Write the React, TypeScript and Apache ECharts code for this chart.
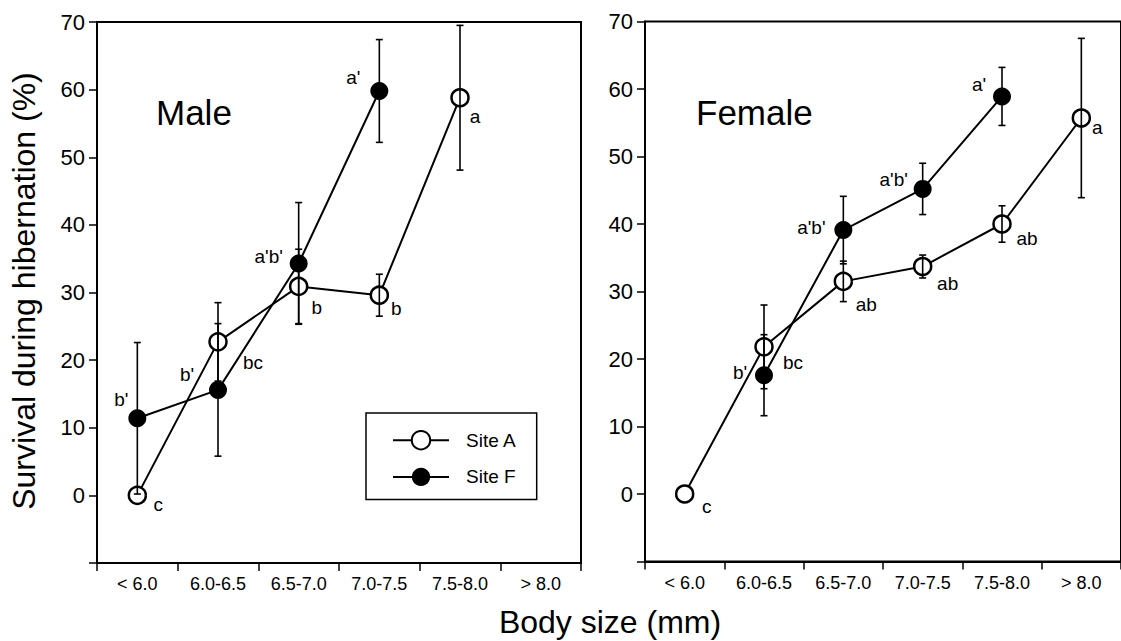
import React, { useEffect, useRef } from "react";
import * as echarts from "echarts";

const categories = ["< 6.0", "6.0-6.5", "6.5-7.0", "7.0-7.5", "7.5-8.0", "> 8.0"];
const yTickValues = [0, 10, 20, 30, 40, 50, 60, 70];

const maleSiteA = [0, 22.7, 30.9, 29.6, 58.8, null];
const maleSiteAErr = [null, 5.8, 5.5, 3.1, 10.7, null];
const maleSiteF = [11.4, 15.6, 34.3, 59.8, null, null];
const maleSiteFErr = [11.2, 9.8, 9.0, 7.6, null, null];
const maleSiteALetters = ["c", "bc", "b", "b", "a", ""];
const maleSiteFLetters = ["b'", "b'", "a'b'", "a'", "", ""];

const femaleSiteA = [0, 21.8, 31.5, 33.7, 40.0, 55.7];
const femaleSiteAErr = [null, 6.2, 3.0, 1.7, 2.7, 11.8];
const femaleSiteF = [null, 17.6, 39.1, 45.2, 58.9, null];
const femaleSiteFErr = [null, 6.0, 5.0, 3.8, 4.3, null];
const femaleSiteALetters = ["c", "bc", "ab", "ab", "ab", "a"];
const femaleSiteFLetters = ["", "b'", "a'b'", "a'b'", "a'", ""];

// label placement (style only)
const maleAOffsets = [[21, 9], [35, 21], [18, 21], [17, 13], [15, 19], [0, 0]];
const maleFOffsets = [[-16, -19], [-31, -15], [-30, -7], [-26, -13], [0, 0], [0, 0]];
const femaleAOffsets = [[22, 12], [29, 16], [23, 23], [25, 17], [25, 14], [16, 9]];
const femaleFOffsets = [[0, 0], [-24, -3], [-32, -3], [-29, -9], [-23, -12], [0, 0]];

const FONT = "Liberation Sans, Arial, Helvetica, sans-serif";

function lineData(values: (number | null)[], letters: string[], offsets: number[][]) {
  return values.map((v, i) => {
    if (v === null) return "-";
    const txt = letters[i];
    return {
      value: v,
      label: {
        show: !!txt,
        formatter: txt,
        position: "inside",
        offset: offsets[i],
        align: "center",
        verticalAlign: "middle",
      },
    };
  });
}

function errData(values: (number | null)[], errs: (number | null)[]) {
  const out: number[][] = [];
  values.forEach((v, i) => {
    const e = errs[i];
    if (v !== null && e !== null && e !== undefined) out.push([i, v - e, v + e]);
  });
  return out;
}

const renderErr = (params: any, api: any) => {
  const x = api.value(0);
  const lo = api.value(1);
  const hi = api.value(2);
  const p1 = api.coord([x, hi]);
  const p2 = api.coord([x, lo]);
  const w = 3.5;
  const st = { stroke: "#000", lineWidth: 1.6 };
  return {
    type: "group",
    children: [
      { type: "line", shape: { x1: p1[0], y1: p1[1], x2: p2[0], y2: p2[1] }, style: st },
      { type: "line", shape: { x1: p1[0] - w, y1: p1[1], x2: p1[0] + w, y2: p1[1] }, style: st },
      { type: "line", shape: { x1: p2[0] - w, y1: p2[1], x2: p2[0] + w, y2: p2[1] }, style: st },
    ],
  };
};

export default function App() {
  const ref = useRef<HTMLDivElement>(null);
  useEffect(() => {
    if (!ref.current) return;
    const chart = echarts.init(ref.current, undefined, { renderer: "svg" });

    const xAxisBase = (gridIndex: number) => ({
      type: "category",
      gridIndex,
      data: categories,
      boundaryGap: true,
      position: "bottom",
      axisLine: { show: true, onZero: false, lineStyle: { color: "#000", width: 2 } },
      axisTick: { show: true, inside: false, length: 8, alignWithLabel: false, lineStyle: { color: "#000", width: 1.5 } },
      axisLabel: { color: "#000", fontSize: 18, fontFamily: FONT, margin: 12, interval: 0 },
      splitLine: { show: false },
    });
    const yAxisBase = (gridIndex: number) => ({
      type: "value",
      gridIndex,
      min: -10,
      max: 70,
      interval: 10,
      axisLine: { show: true, lineStyle: { color: "#000", width: 2 } },
      axisTick: { show: true, inside: false, length: 8, lineStyle: { color: "#000", width: 1.5 } },
      axisLabel: {
        color: "#000",
        fontSize: 22,
        fontFamily: FONT,
        margin: 12,
        formatter: (v: number) => (yTickValues.indexOf(v) >= 0 ? String(v) : ""),
      },
      splitLine: { show: false },
    });

    const siteAStyle = {
      type: "line",
      symbol: "circle",
      symbolSize: 17,
      lineStyle: { color: "#000", width: 2 },
      itemStyle: { color: "#fff", borderColor: "#000", borderWidth: 2.5 },
      label: { color: "#000", fontSize: 19, fontFamily: FONT },
      z: 2,
    };
    const siteFStyle = {
      type: "line",
      symbol: "circle",
      symbolSize: 18,
      lineStyle: { color: "#000", width: 2 },
      itemStyle: { color: "#000", borderColor: "#000", borderWidth: 0 },
      label: { color: "#000", fontSize: 19, fontFamily: FONT },
      z: 2,
    };
    const errStyle = { type: "custom", renderItem: renderErr, z: 4, silent: true, encode: { x: 0, y: [1, 2] } };

    chart.setOption({
      animation: false,
      backgroundColor: "#fff",
      textStyle: { fontFamily: FONT },
      grid: [
        { left: 97, right: 1121 - 581, top: 22, bottom: 641 - 563, show: true, borderColor: "#000", borderWidth: 2 },
        { left: 645, right: -4, top: 21.5, bottom: 641 - 561.5, show: true, borderColor: "#000", borderWidth: 2 },
      ],
      xAxis: [xAxisBase(0), xAxisBase(1)],
      yAxis: [yAxisBase(0), yAxisBase(1)],
      legend: {
        data: ["Site A", "Site F"],
        orient: "vertical",
        left: 366,
        top: 413,
        itemWidth: 56,
        itemHeight: 23,
        itemGap: 17,
        padding: [17, 20, 13, 26],
        borderColor: "#000",
        borderWidth: 1.5,
        textStyle: { color: "#000", fontSize: 19, fontFamily: FONT, padding: [0, 0, 0, 12] },
      },
      graphic: [
        { type: "text", left: 156, top: 95, style: { text: "Male", fontSize: 35, fontFamily: FONT, fill: "#000" } },
        { type: "text", left: 696, top: 95, style: { text: "Female", fontSize: 35, fontFamily: FONT, fill: "#000" } },
        {
          type: "text",
          x: 24,
          y: 291,
          rotation: Math.PI / 2,
          style: {
            text: "Survival during hibernation (%)",
            fontSize: 32,
            fontFamily: FONT,
            fill: "#000",
            align: "center",
            verticalAlign: "middle",
          },
        },
        {
          type: "text",
          x: 610,
          y: 622,
          style: {
            text: "Body size (mm)",
            fontSize: 32,
            fontFamily: FONT,
            fill: "#000",
            align: "center",
            verticalAlign: "middle",
          },
        },
      ],
      series: [
        { ...siteAStyle, name: "Site A", xAxisIndex: 0, yAxisIndex: 0, data: lineData(maleSiteA, maleSiteALetters, maleAOffsets) },
        { ...siteFStyle, name: "Site F", xAxisIndex: 0, yAxisIndex: 0, data: lineData(maleSiteF, maleSiteFLetters, maleFOffsets) },
        { ...siteAStyle, name: "Site A", xAxisIndex: 1, yAxisIndex: 1, data: lineData(femaleSiteA, femaleSiteALetters, femaleAOffsets) },
        { ...siteFStyle, name: "Site F", xAxisIndex: 1, yAxisIndex: 1, data: lineData(femaleSiteF, femaleSiteFLetters, femaleFOffsets) },
        { ...errStyle, name: "errMaleA", xAxisIndex: 0, yAxisIndex: 0, data: errData(maleSiteA, maleSiteAErr) },
        { ...errStyle, name: "errMaleF", xAxisIndex: 0, yAxisIndex: 0, data: errData(maleSiteF, maleSiteFErr) },
        { ...errStyle, name: "errFemaleA", xAxisIndex: 1, yAxisIndex: 1, data: errData(femaleSiteA, femaleSiteAErr) },
        { ...errStyle, name: "errFemaleF", xAxisIndex: 1, yAxisIndex: 1, data: errData(femaleSiteF, femaleSiteFErr) },
      ],
    });
    return () => chart.dispose();
  }, []);

  return (
    <div
      ref={ref}
      style={{ position: "fixed", left: 0, top: 0, width: 1121, height: 641, background: "#fff" }}
    />
  );
}
